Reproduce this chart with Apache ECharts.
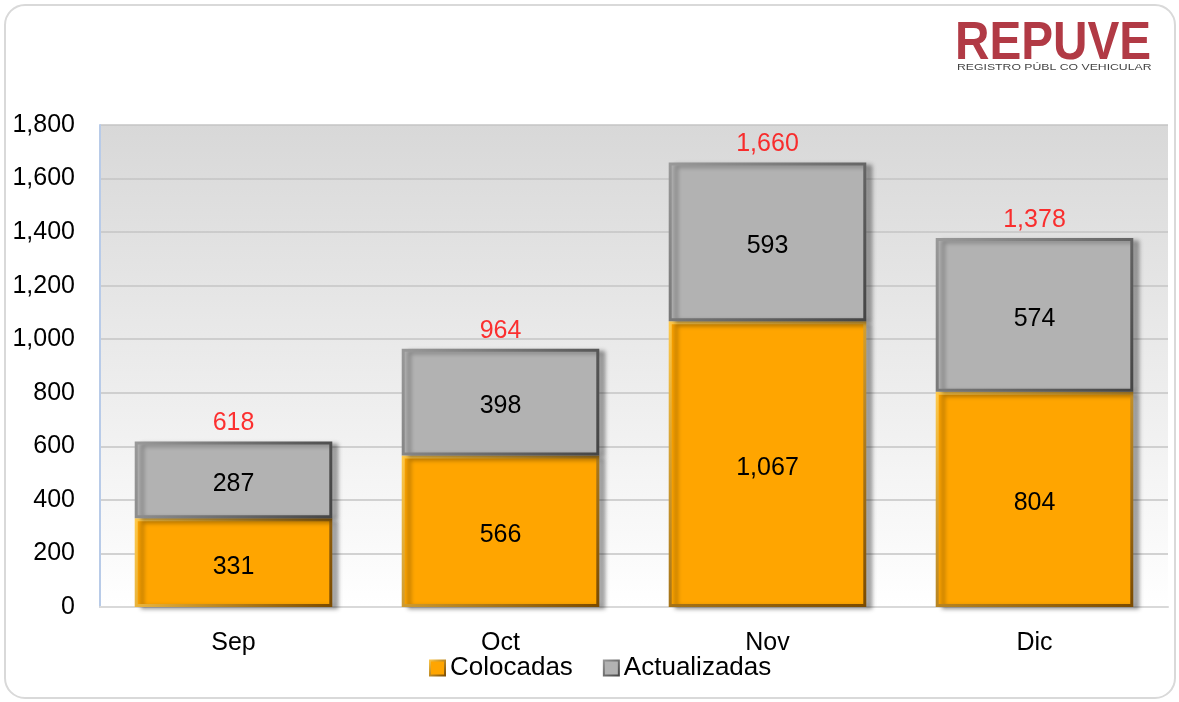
<!DOCTYPE html>
<html>
<head>
<meta charset="utf-8">
<script src="https://cdn.jsdelivr.net/npm/echarts@6/dist/echarts.min.js"></script>
<style>
  html, body { margin: 0; padding: 0; background: #fff; }
  #main { width: 1179px; height: 702px; }
</style>
</head>
<body>
<div id="main"></div>
<script>
  var meses = ['Sep', 'Oct', 'Nov', 'Dic'];
  var colocadas = [331, 566, 1067, 804];
  var actualizadas = [287, 398, 593, 574];
  var totales = meses.map(function (m, i) { return colocadas[i] + actualizadas[i]; });

  var fmt = function (v) { return Number(v).toLocaleString('en-US'); };
  var font = 'Liberation Sans, Arial, sans-serif';

  // bisel: claro arriba-izquierda, oscuro abajo-derecha
  function bisel(c1, c2) {
    return { type: 'linear', x: 0, y: 0, x2: 1, y2: 1, colorStops: [{ offset: 0, color: c1 }, { offset: 1, color: c2 }] };
  }

  var myChart = echarts.init(document.getElementById('main'));
  myChart.setOption({
    animation: false,
    textStyle: { fontFamily: font },
    grid: {
      left: 100, right: 11, top: 125, bottom: 95,
      show: true,
      borderWidth: 0,
      backgroundColor: { type: 'linear', x: 0, y: 0, x2: 0, y2: 1, colorStops: [{ offset: 0, color: '#d8d8d8' }, { offset: 1, color: '#ffffff' }] }
    },
    legend: {
      data: ['Colocadas', 'Actualizadas'],
      left: 424, top: 650,
      itemWidth: 15, itemHeight: 15, itemGap: 30,
      icon: 'rect',
      textStyle: { fontSize: 26, color: '#000', fontFamily: font }
    },
    xAxis: {
      type: 'category',
      data: meses,
      axisTick: { show: false },
      axisLine: { lineStyle: { color: '#d9d9d9', width: 2 } },
      axisLabel: { fontSize: 25, color: '#000', margin: 24 }
    },
    yAxis: {
      type: 'value',
      min: 0, max: 1800, interval: 200,
      axisLine: { show: true, lineStyle: { color: '#b8cbe8', width: 2 } },
      axisTick: { show: false },
      splitLine: { lineStyle: { color: '#c4c4c4', width: 1.5 } },
      axisLabel: { fontSize: 25, color: '#000', margin: 25, formatter: fmt }
    },
    graphic: [
      {
        type: 'rect', silent: true,
        shape: { x: 5, y: 5, width: 1170, height: 693, r: 20 },
        style: { fill: 'none', stroke: '#d9d9d9', lineWidth: 2 }
      },
      {
        type: 'text', left: 955, top: 18, scaleX: 0.9,
        style: { text: 'REPUVE', fontSize: 53, fontWeight: 'bold', fontFamily: font, fill: '#b13a45' }
      },
      {
        type: 'text', left: 957, top: 63, scaleX: 1.36,
        style: { text: 'REGISTRO PÚBL CO VEHICULAR', fontSize: 9, fontFamily: font, fill: '#444' }
      }
    ],
    series: [
      {
        name: 'Colocadas', type: 'bar', stack: 'total', barWidth: '74%',
        data: colocadas,
        itemStyle: {
          color: '#ffa500',
          borderColor: bisel('#ffc94a', '#7a4a00'), borderWidth: 3,
          shadowColor: 'rgba(0,0,0,0.3)', shadowBlur: 4, shadowOffsetX: 6, shadowOffsetY: 2
        },
        label: { show: true, position: 'inside', offset: [0, 4], fontSize: 25, color: '#000', formatter: function (p) { return fmt(p.value); } }
      },
      {
        name: 'Actualizadas', type: 'bar', stack: 'total', barWidth: '74%',
        data: actualizadas,
        itemStyle: {
          color: '#b2b2b2',
          borderColor: bisel('#999999', '#444444'), borderWidth: 3,
          shadowColor: 'rgba(0,0,0,0.3)', shadowBlur: 4, shadowOffsetX: 6, shadowOffsetY: 2
        },
        label: { show: true, position: 'inside', offset: [0, 4], fontSize: 25, color: '#000', formatter: function (p) { return fmt(p.value); } }
      },
      {
        name: 'Total', type: 'scatter', symbolSize: 1,
        data: totales,
        itemStyle: { color: 'rgba(0,0,0,0)' },
        label: { show: true, position: 'top', distance: 5, fontSize: 25, color: '#ff0000', formatter: function (p) { return fmt(p.value); } },
        silent: true
      }
    ]
  });
</script>
</body>
</html>
